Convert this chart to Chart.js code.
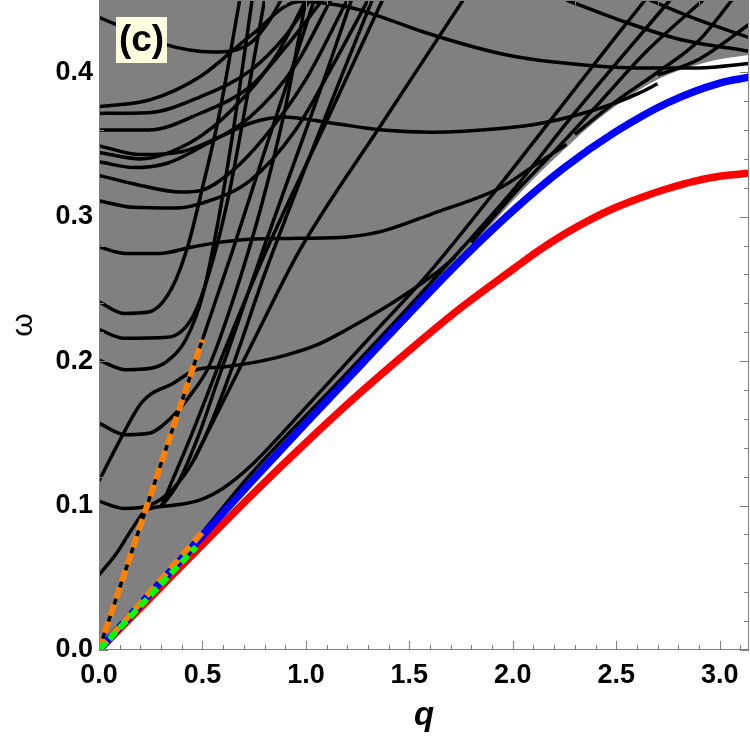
<!DOCTYPE html>
<html><head><meta charset="utf-8">
<script src="https://cdn.jsdelivr.net/npm/chart.js@4.4.1/dist/chart.umd.min.js"></script>
<style>html,body{margin:0;padding:0;background:#fff;}canvas{display:block;}</style>
</head><body>
<canvas id="c" width="750" height="744"></canvas>
<script>
// ---------- tick labels ----------
const xTicks = [0, 0.5, 1.0, 1.5, 2.0, 2.5, 3.0];
const yTicks = [0, 0.1, 0.2, 0.3, 0.4];
const xMax = 3.14159, yMax = 0.45;

// ---------- continuum lower edge (gray region above) ----------
const edgeQ = [0, 0.25, 0.5, 0.75, 1.0, 1.25, 1.5, 1.75, 1.9, 2.0, 2.1, 2.26, 2.4, 2.58, 2.7, 2.82, 3.0, 3.1416];
const edgeW = [0, 0.04, 0.0795, 0.119, 0.158, 0.196, 0.234, 0.273, 0.295, 0.311, 0.326, 0.348, 0.366, 0.385, 0.395, 0.402, 0.409, 0.412];

// ---------- blue and red modes ----------
const blueQ = [0, 0.25, 0.5, 0.75, 1.0, 1.25, 1.5, 1.75, 2.0, 2.25, 2.5, 2.75, 3.0, 3.1416];
const blueW = [0, 0.0395, 0.079, 0.1185, 0.157, 0.195, 0.233, 0.27, 0.304, 0.334, 0.359, 0.379, 0.3925, 0.3965];
const redQ  = [0, 0.25, 0.5, 0.75, 1.0, 1.25, 1.5, 1.75, 2.0, 2.125, 2.25, 2.375, 2.5, 2.625, 2.75, 2.875, 3.0, 3.1416];
const redW  = [0, 0.0365, 0.073, 0.109, 0.1435, 0.1765, 0.2075, 0.237, 0.2635, 0.2765, 0.288, 0.298, 0.3065, 0.3135, 0.3195, 0.3245, 0.328, 0.33];

// ---------- dashed low-q lines ----------
const orangeSteep = [[0, 0], [0.5, 0.215]];
const orangeLow   = [[0, 0], [0.5, 0.0815]];
const greenLow    = [[0, 0], [0.47, 0.0715]];

// ---------- black curves ----------
const kSteep = [[0,0],[0.5,0.215],[0.647,0.277],[0.8,0.345],[0.95,0.41],[1.04,0.45]];
const kLow   = [[0,0],[0.5,0.0815],[0.729,0.121],[1.2,0.192],[1.5,0.238],[1.76,0.279],[2.0,0.318],[2.3,0.372],[2.76,0.45]];
const kL1    = [[0,0.052],[0.085,0.067],[0.165,0.085],[0.23,0.097],[0.35,0.1],[0.49,0.104],[0.6,0.112],[0.73,0.127],[1.0,0.168],[1.3,0.215],[1.6,0.262],[1.9,0.315],[2.2,0.37],[2.5,0.425],[2.64,0.45]];
const kB3    = [[1.8,0.282],[2.0,0.315],[2.2,0.345],[2.4,0.376],[2.65,0.415],[2.92,0.45]];
const kB4    = [[2.3,0.357],[2.5,0.38],[2.7,0.4],[2.9,0.422],[3.06,0.45]];
const kB5    = [[2.7,0.398],[2.9,0.409],[3.1416,0.433]];
const kA1    = [[2.26,0.45],[2.5,0.437],[2.8,0.423],[3.1416,0.4145]];
const kA2    = [[2.66,0.45],[2.9,0.436],[3.1416,0.424]];
const kD1    = [[0.3,0.099],[0.45,0.15],[0.6,0.205],[0.81,0.277],[1.1,0.366],[1.37,0.45]];
const kD2    = [[0.46,0.132],[0.6,0.172],[0.75,0.215],[0.971,0.277],[1.37,0.365],[1.76,0.45]];
const kF1  = [[0,0.103],[0.12,0.098],[0.24,0.1],[0.36,0.112],[0.46,0.132],[0.55,0.16],[0.65,0.198],[0.8,0.26],[1.0,0.335],[1.18,0.4],[1.32,0.45]];
const kF2  = [[0.3,0.099],[0.38,0.115],[0.48,0.148],[0.57,0.185],[0.66,0.222],[0.8,0.28],[0.95,0.34],[1.1,0.4],[1.22,0.45]];
const kF3  = [[0,0.157],[0.13,0.149],[0.24,0.15],[0.35,0.161],[0.45,0.178],[0.53,0.196],[0.647,0.242],[0.78,0.305],[0.9,0.375],[1.0,0.45]];
const kG1  = [[0,0.117],[0.1,0.145],[0.21,0.172],[0.357,0.1845],[0.47,0.194],[0.6,0.196],[0.73,0.1986],[0.9,0.204],[1.05,0.211],[1.2,0.222],[1.37,0.236],[1.5,0.248],[1.62,0.26],[1.72,0.272]];
const kF4  = [[0,0.2006],[0.13,0.194],[0.25,0.195],[0.33,0.2],[0.42,0.215],[0.5,0.245],[0.58,0.3],[0.66,0.37],[0.74,0.45]];
const kF5  = [[0,0.222],[0.12,0.2158],[0.33,0.2165],[0.45,0.23],[0.53,0.26],[0.62,0.31],[0.7,0.37],[0.8,0.45]];
const kF6  = [[0,0.241],[0.12,0.233],[0.24,0.234],[0.35,0.25],[0.43,0.28],[0.5,0.32],[0.58,0.37],[0.68,0.45]];
const kG2  = [[0,0.279],[0.13,0.2745],[0.29,0.2745],[0.45,0.279],[0.55,0.2815],[0.73,0.2843],[0.97,0.285],[1.2,0.286],[1.37,0.29],[1.61,0.302],[1.94,0.32],[2.1,0.335],[2.26,0.35]];
const kF8  = [[0,0.311],[0.16,0.3065],[0.37,0.306],[0.49,0.309],[0.73,0.325],[0.95,0.36],[1.15,0.41],[1.3,0.45]];
const kF9  = [[0,0.3286],[0.16,0.323],[0.4,0.317],[0.49,0.318],[0.647,0.332],[0.8,0.355],[1.0,0.395],[1.2,0.45]];
const kF10 = [[0,0.338],[0.17,0.334],[0.33,0.337],[0.49,0.348],[0.73,0.369],[0.95,0.405],[1.12,0.45]];
const kF11 = [[0,0.3445],[0.2,0.34],[0.45,0.352],[0.65,0.375],[0.85,0.41],[1.0,0.45]];
const kF12 = [[0,0.3715],[0.24,0.372],[0.49,0.383],[0.73,0.401],[0.9,0.425],[1.02,0.45]];
const kF13 = [[0,0.36],[0.24,0.36],[0.49,0.3716],[0.73,0.39],[0.9,0.417],[1.08,0.45]];
const kArc = [[0,0.376],[0.25,0.381],[0.49,0.397],[0.73,0.425],[0.97,0.449],[1.21,0.445],[1.37,0.438],[1.565,0.428],[1.937,0.413],[2.2,0.407],[2.6,0.403],[2.9,0.403],[3.1416,0.406]];
const kTop = [[0,0.438],[0.1,0.432],[0.3,0.42],[0.55,0.414],[0.73,0.42],[0.82,0.435],[0.88,0.45]];
const kG3  = [[0,0.349],[0.2,0.343],[0.4,0.345],[0.58,0.355],[0.73,0.3647],[0.89,0.369],[1.13,0.3647],[1.37,0.36],[1.61,0.3585],[1.94,0.361],[2.15,0.365],[2.34,0.3716],[2.5,0.379],[2.61,0.3855],[2.7,0.392]];

const blackCurves = [kSteep,kLow,kL1,kB3,kB4,kB5,kA1,kA2,kD1,kD2,kF1,kF2,kF3,kG1,kF4,kF5,kF6,kG2,kF8,kF9,kF10,kF11,kF12,kF13,kArc,kTop,kG3];

// ---------- build datasets ----------
const zip = (qs, ws) => qs.map((q, i) => ({x: q, y: ws[i]}));
const pts = arr => arr.map(p => ({x: p[0], y: p[1]}));
function ds(data, color, width, order, extra) {
  return Object.assign({data, borderColor: color, borderWidth: width, pointRadius: 0,
    fill: false, cubicInterpolationMode: 'monotone', order, clip: 0, borderCapStyle: 'butt'}, extra || {});
}
const datasets = [];
datasets.push(ds(zip(edgeQ, edgeW), 'rgba(0,0,0,0)', 0, 100, {fill: 'end', backgroundColor: '#808080'}));
blackCurves.forEach(c => datasets.push(ds(pts(c), '#000000', 3.5, 50)));
datasets.push(ds(zip(redQ, redW), '#ff0000', 7.5, 20));
datasets.push(ds(zip(blueQ, blueW), '#0000ff', 7.5, 19));
datasets.push(ds(pts(orangeLow), '#ff8000', 6, 7, {borderDash: [12, 6]}));
datasets.push(ds(pts(orangeSteep), '#ff8000', 6, 7, {borderDash: [12, 6]}));
datasets.push(ds(pts(greenLow), '#00ff00', 6, 6, {borderDash: [10, 5]}));

// ---------- frame, inward ticks and panel label ----------
const decor = {
  id: 'decor',
  afterDatasetsDraw(chart) {
    const {ctx, chartArea: a, scales: {x, y}} = chart;
    ctx.save();
    ctx.strokeStyle = '#808080';
    ctx.lineWidth = 1;
    ctx.beginPath();
    for (let i = 0; i * 0.1 <= xMax; i++) {
      const px = Math.round(x.getPixelForValue(i * 0.1)) + 0.5;
      const len = i % 5 === 0 ? 9 : 5;
      ctx.moveTo(px, a.bottom); ctx.lineTo(px, a.bottom - len);
      ctx.moveTo(px, a.top); ctx.lineTo(px, a.top + len);
    }
    for (let i = 0; i * 0.02 <= yMax + 1e-9; i++) {
      const py = Math.round(y.getPixelForValue(i * 0.02)) + 0.5;
      const len = i % 5 === 0 ? 9 : 5;
      ctx.moveTo(a.left, py); ctx.lineTo(a.left + len, py);
      ctx.moveTo(a.right, py); ctx.lineTo(a.right - len, py);
    }
    ctx.stroke();
    ctx.strokeRect(a.left + 0.5, a.top + 0.5, a.right - a.left - 1, a.bottom - a.top - 1);
    // panel label
    ctx.fillStyle = '#ffffe0';
    ctx.fillRect(a.left + 17, a.top + 17, 51, 46);
    ctx.fillStyle = '#000';
    ctx.font = 'bold 37px "Liberation Sans", Arial, sans-serif';
    ctx.textAlign = 'center';
    ctx.textBaseline = 'middle';
    ctx.fillText('(c)', a.left + 42.5, a.top + 41);
    ctx.restore();
  }
};

const tickFont = {family: '"Liberation Sans", Arial, sans-serif', size: 27, weight: 'bold'};
new Chart(document.getElementById('c'), {
  type: 'line',
  data: {datasets},
  options: {
    responsive: false, animation: false, events: [],
    layout: {padding: {left: 0, right: 1, top: 0, bottom: 0}},
    plugins: {legend: {display: false}, tooltip: {enabled: false}},
    scales: {
      x: {
        type: 'linear', min: 0, max: xMax,
        grid: {display: false, drawTicks: false}, border: {display: false},
        afterBuildTicks: s => { s.ticks = xTicks.map(v => ({value: v})); },
        afterFit: s => { s.height = 94; s.paddingLeft = 0; s.paddingRight = 0; },
        ticks: {font: tickFont, color: '#000', padding: 9, autoSkip: false, maxRotation: 0,
          callback: v => Number(v).toFixed(1)},
        title: {display: true, text: 'q', color: '#000', padding: {top: 0, bottom: 8},
          font: {family: '"Liberation Sans", Arial, sans-serif', size: 33, weight: 'bold', style: 'italic'}}
      },
      y: {
        type: 'linear', min: 0, max: yMax,
        grid: {display: false, drawTicks: false}, border: {display: false},
        afterBuildTicks: s => { s.ticks = yTicks.map(v => ({value: v})); },
        afterFit: s => { s.width = 99; s.paddingTop = 0; s.paddingBottom = 0; },
        ticks: {font: tickFont, color: '#000', padding: 6, autoSkip: false,
          callback: v => Number(v).toFixed(1)},
        title: {display: true, text: 'ω', color: '#000', padding: {top: 6, bottom: 0},
          font: {family: '"Liberation Sans", Arial, sans-serif', size: 30}}
      }
    }
  },
  plugins: [decor]
});
</script>
</body></html>
